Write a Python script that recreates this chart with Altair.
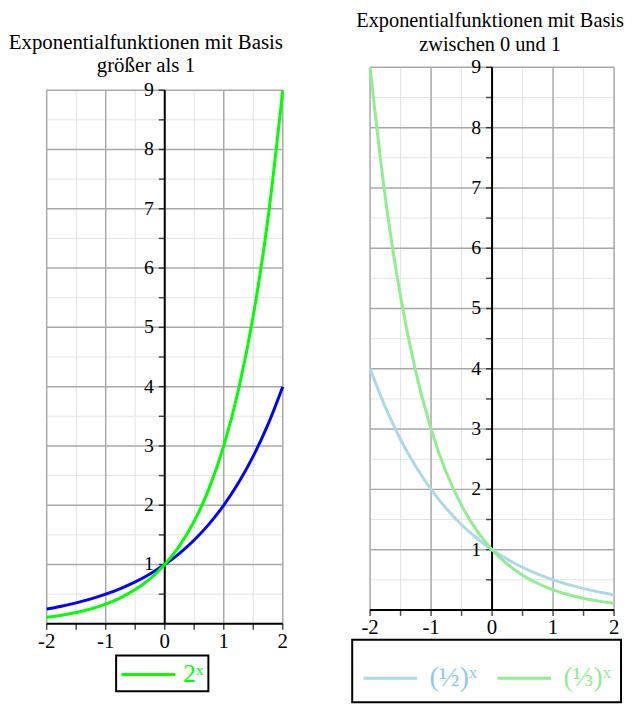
import altair as alt
import pandas as pd

# ---- data ----
xs = [-2.0, -1.75, -1.5, -1.25, -1.0, -0.75, -0.5, -0.25, 0.0,
      0.25, 0.5, 0.75, 1.0, 1.25, 1.5, 1.75, 2.0]
pow2 = [0.250, 0.297, 0.354, 0.420, 0.500, 0.595, 0.707, 0.841, 1.000,
        1.189, 1.414, 1.682, 2.000, 2.378, 2.828, 3.364, 4.000]
pow3 = [0.111, 0.146, 0.192, 0.253, 0.333, 0.439, 0.577, 0.760, 1.000,
        1.316, 1.732, 2.280, 3.000, 3.948, 5.196, 6.839, 9.000]
half = [4.000, 3.364, 2.828, 2.378, 2.000, 1.682, 1.414, 1.189, 1.000,
        0.841, 0.707, 0.595, 0.500, 0.420, 0.354, 0.297, 0.250]
third = [9.000, 6.839, 5.196, 3.948, 3.000, 2.280, 1.732, 1.316, 1.000,
         0.760, 0.577, 0.439, 0.333, 0.253, 0.192, 0.146, 0.111]

major_x = [-2, -1, 0, 1, 2]
minor_x = [-1.5, -0.5, 0.5, 1.5]
major_y = [1, 2, 3, 4, 5, 6, 7, 8, 9]
minor_y = [0.5, 1.5, 2.5, 3.5, 4.5, 5.5, 6.5, 7.5, 8.5]
tick_x = [-2, -1.5, -1, -0.5, 0, 0.5, 1, 1.5, 2]
tick_y = [0.5, 1, 1.5, 2, 2.5, 3, 3.5, 4, 4.5, 5, 5.5, 6, 6.5, 7, 7.5, 8, 8.5, 9]
x_labels = ["-2", "-1", "0", "1", "2"]
y_labels = ["1", "2", "3", "4", "5", "6", "7", "8", "9"]
y_range = [0, 9]

left_title = ["Exponentialfunktionen mit Basis", "größer als 1"]
right_title = ["Exponentialfunktionen mit Basis", "zwischen 0 und 1"]
left_legend = ["2ˣ"]
right_legend = ["(½)ˣ", "(⅓)ˣ"]

FONT = "Liberation Serif"
MAJOR = "#a8a8a8"
MINOR = "#e3e3e3"


def panel(w, h, ytop, curves, title):
    xsc = alt.Scale(domain=[-2, 2], nice=False, zero=False)
    ysc = alt.Scale(domain=[0, ytop], nice=False, zero=False)

    def X(f):
        return alt.X(f, type="quantitative", scale=xsc, axis=None)

    def Y(f):
        return alt.Y(f, type="quantitative", scale=ysc, axis=None)

    def vrules(vals, color, width):
        df = pd.DataFrame({"v": vals, "lo": y_range[0], "hi": y_range[1]})
        return alt.Chart(df).mark_rule(color=color, strokeWidth=width).encode(
            x=X("v"), y=Y("lo"), y2="hi:Q")

    def hrules(vals, color, width):
        df = pd.DataFrame({"v": vals})
        return alt.Chart(df).mark_rule(color=color, strokeWidth=width).encode(y=Y("v"))

    minor_v = vrules(minor_x, MINOR, 1)
    minor_h = hrules(minor_y, MINOR, 1)
    major_v = vrules(major_x, MAJOR, 1.5)
    major_h = hrules(major_y, MAJOR, 1.5)
    yaxis = vrules([0], "black", 2)
    xaxis = hrules([0], "black", 2)
    yticks = alt.Chart(pd.DataFrame({"v": tick_y, "z": 0})).mark_tick(
        orient="horizontal", size=6, thickness=1.5, xOffset=-3, color="black"
    ).encode(y=Y("v"), x=X("z"))
    xticks = alt.Chart(pd.DataFrame({"v": tick_x, "z": 0})).mark_tick(
        orient="vertical", size=6, thickness=1.5, yOffset=3, color="black"
    ).encode(x=X("v"), y=Y("z"))
    ylab = alt.Chart(pd.DataFrame({"v": major_y, "t": y_labels, "z": 0})).mark_text(
        align="right", baseline="middle", dx=-11, font=FONT, fontSize=20, color="black"
    ).encode(x=X("z"), y=Y("v"), text="t:N")
    xlab = alt.Chart(pd.DataFrame({"v": major_x, "t": x_labels, "z": 0})).mark_text(
        align="center", baseline="top", dy=7, font=FONT, fontSize=21, color="black"
    ).encode(x=X("v"), y=Y("z"), text="t:N")

    layers = [minor_v, minor_h, major_v, major_h, yaxis, xaxis, yticks, xticks,
              ylab, xlab] + [c(X, Y) for c in curves]
    return alt.layer(*layers).properties(width=w, height=h, title=title)


def left_blue(X, Y):
    return alt.Chart(pd.DataFrame({"x": xs, "y": pow2})).mark_line(
        interpolate="monotone", strokeWidth=3, color="#0000ff"
    ).encode(x=X("x"), y=Y("y"))


def left_green(X, Y):
    return alt.Chart(pd.DataFrame({"x": xs, "y": pow3, "s": left_legend[0]})).mark_line(
        interpolate="monotone", strokeWidth=3
    ).encode(
        x=X("x"), y=Y("y"),
        color=alt.Color("s:N", scale=alt.Scale(domain=left_legend, range=["#00ff00"]),
                        legend=alt.Legend(
                            title=None, orient="none", legendX=70, legendY=593,
                            direction="horizontal", symbolType="M-2,0L2,0",
                            symbolSize=729, symbolStrokeWidth=3, symbolOffset=13.5,
                            labelFont=FONT, labelFontSize=26, labelColor="#00ff00",
                            labelOffset=20, padding=4, strokeColor="black",
                            fillColor="white")))


def right_curves(X, Y):
    df = pd.DataFrame({
        "x": xs + xs,
        "y": half + third,
        "s": [right_legend[0]] * len(xs) + [right_legend[1]] * len(xs),
    })
    return alt.Chart(df).mark_line(interpolate="monotone", strokeWidth=3).encode(
        x=X("x"), y=Y("y"), detail="s:N",
        color=alt.Color("s:N", scale=alt.Scale(domain=right_legend,
                                               range=["#add8e6", "#90ee90"]),
                        legend=alt.Legend(
                            title=None, orient="none", legendX=-18, legendY=577,
                            direction="horizontal", symbolType="stroke",
                            symbolSize=2916, symbolStrokeWidth=3,
                            labelFont=FONT, labelFontSize=28,
                            labelColor=alt.ExprRef(
                                "datum.label == '(½)ˣ' ? '#8cc8f2' : '#90ee90'"),
                            labelOffset=11, columnPadding=14, padding=10,
                            strokeColor="black", fillColor="white")))


left = panel(238, 561, 9.385, [left_blue, left_green],
             alt.TitleParams(text=left_title, font=FONT, fontSize=21, fontWeight="normal",
                             anchor="middle", dx=-19, dy=11, offset=2, lineHeight=24,
                             color="black"))
right = panel(246, 547, 9, [right_curves],
              alt.TitleParams(text=right_title, font=FONT, fontSize=20.5,
                              fontWeight="normal", anchor="middle", dx=-2,
                              offset=2, lineHeight=24, color="black"))

chart = alt.hconcat(left, right, spacing=63).resolve_scale(
    color="independent"
).resolve_legend(color="independent").properties(
    padding=0, background="white"
).configure_view(stroke=None).configure_legend(strokeWidth=2)

chart.save("out.html", embed_options={"renderer": "svg", "actions": False})
